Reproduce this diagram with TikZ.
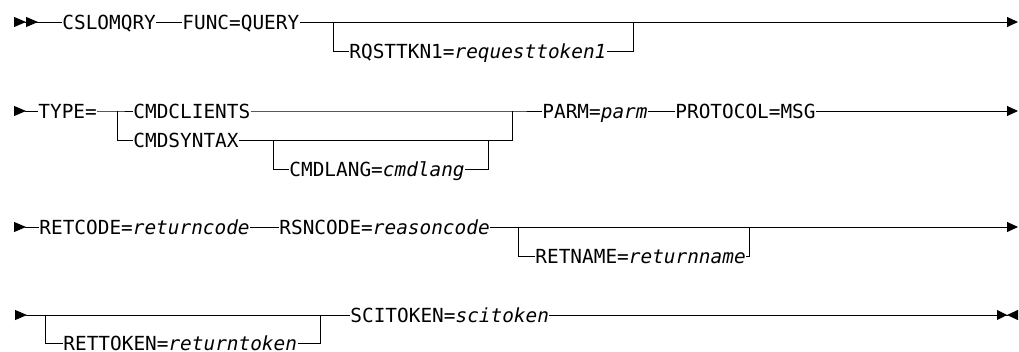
\documentclass[tikz,border=0pt]{standalone}
\usepackage{fontspec}
\setmainfont{DejaVu Sans Mono}
\usepackage{tikz}
\usetikzlibrary{arrows.meta}

\begin{document}
\begin{tikzpicture}[x=1pt,y=-1pt,line width=0.9pt,
  kw/.style={anchor=west,inner sep=0pt,text height=14.1pt,text depth=0pt,font=\fontsize{19.4}{22}\selectfont},
  startdbl/.style={{Triangle[reversed,length=12pt,width=10pt]Triangle[reversed,length=12pt,width=10pt]}-},
  startone/.style={{Triangle[reversed,length=12pt,width=10pt]}-},
  endone/.style={-{Triangle[length=11pt,width=10pt]}},
  endstop/.style={-{Triangle[length=10pt,width=10pt]Triangle[reversed,length=11pt,width=10pt]}}]
\useasboundingbox (0,0) rectangle (1019,352);

% row 1
\coordinate (s1) at (14,22);
\node[kw] (cslomqry) at (62,22) {CSLOMQRY};
\node[kw] (func) at (182,22) {FUNC=QUERY};
\node[kw] (rqsttkn) at (349,51) {RQSTTKN1=\textit{requesttoken1}};
\coordinate (b1) at (333,22);
\coordinate (b2) at (633,22);
\coordinate (e1) at (1018,22);
\draw[startdbl] (s1) -- (cslomqry.west);
\draw (cslomqry.east) -- (func.west);
\draw[endone] (func.east) -- (e1);
\draw (b1) |- (rqsttkn.west);
\draw (rqsttkn.east) -| (b2);

% row 2
\coordinate (s2) at (14,111);
\node[kw] (type) at (38,111) {TYPE=};
\node[kw] (cmdclients) at (133,111) {CMDCLIENTS};
\node[kw] (cmdsyntax) at (133,140) {CMDSYNTAX};
\node[kw] (cmdlang) at (289,169) {CMDLANG=\textit{cmdlang}};
\node[kw] (parm) at (542,111) {PARM=\textit{parm}};
\node[kw] (protocol) at (675,111) {PROTOCOL=MSG};
\coordinate (j1) at (117,111);
\coordinate (j2) at (512,111);
\coordinate (j3) at (273,140);
\coordinate (j4) at (488,140);
\coordinate (e2) at (1018,111);
\draw[startone] (s2) -- (type.west);
\draw (type.east) -- (j1) -- (cmdclients.west);
\draw (j1) |- (cmdsyntax.west);
\draw (cmdclients.east) -- (j2) -- (parm.west);
\draw (cmdsyntax.east) -| (j2);
\draw (j3) |- (cmdlang.west);
\draw (cmdlang.east) -| (j4);
\draw (parm.east) -- (protocol.west);
\draw[endone] (protocol.east) -- (e2);

% row 3
\coordinate (s3) at (14,227);
\node[kw] (retcode) at (39,227) {RETCODE=\textit{returncode}};
\node[kw] (rsncode) at (279,227) {RSNCODE=\textit{reasoncode}};
\node[kw] (retname) at (535,256) {RETNAME=\textit{returnname}};
\coordinate (j5) at (518,227);
\coordinate (j6) at (749,227);
\coordinate (e3) at (1018,227);
\draw[startone] (s3) -- (retcode.west);
\draw (retcode.east) -- (rsncode.west);
\draw[endone] (rsncode.east) -- (e3);
\draw (j5) |- (retname.west);
\draw (retname.east) -| (j6);

% row 4
\coordinate (s4) at (15,315);
\node[kw] (rettoken) at (63,343) {RETTOKEN=\textit{returntoken}};
\node[kw] (scitoken) at (350,315) {SCITOKEN=\textit{scitoken}};
\coordinate (j7) at (45,315);
\coordinate (j8) at (320,315);
\coordinate (e4) at (1018,315);
\draw[startone] (s4) -- (scitoken.west);
\draw (j7) |- (rettoken.west);
\draw (rettoken.east) -| (j8);
\draw[endstop] (scitoken.east) -- (e4);
\end{tikzpicture}
\end{document}
